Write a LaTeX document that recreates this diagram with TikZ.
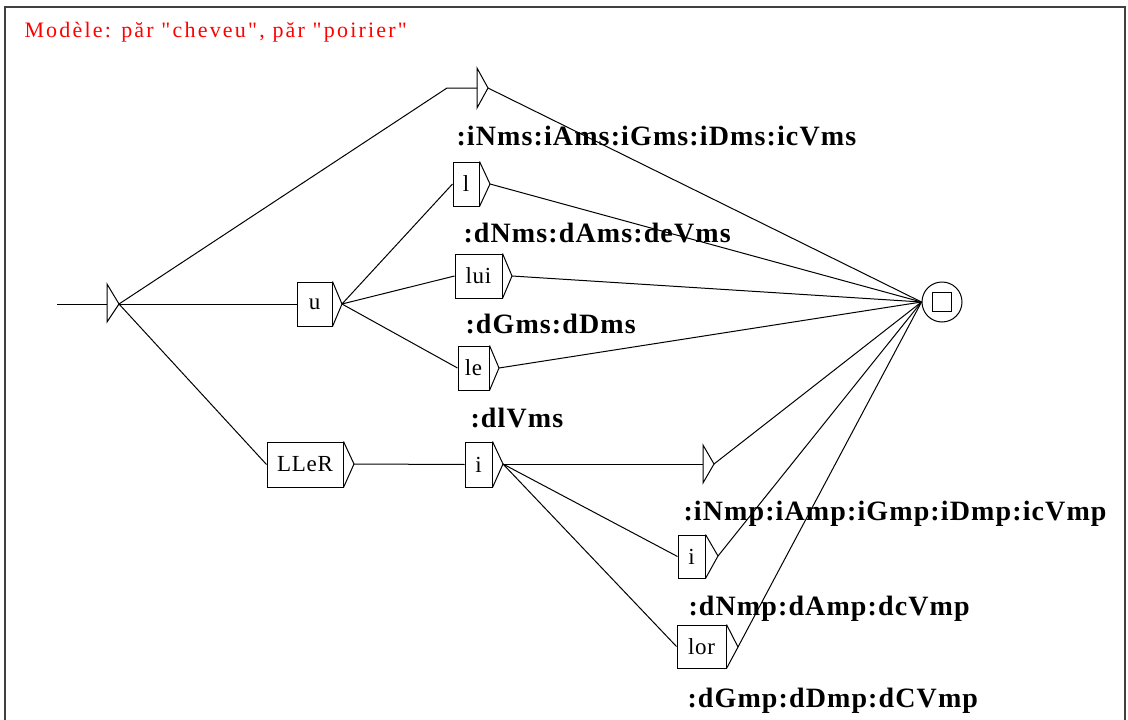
\documentclass[tikz,border=0pt]{standalone}
\usepackage{fontspec}
\setmainfont{Liberation Serif}
\newfontfamily\ttlfont[LetterSpace=10]{Liberation Serif}
\newfontfamily\boxfont[LetterSpace=3]{Liberation Serif}
\newfontfamily\lblfont[LetterSpace=4]{Liberation Serif}

\tikzset{
  box/.style={draw, rectangle, minimum height=44pt, inner sep=0pt, font=\boxfont\fontsize{23}{25}\selectfont},
  lbl/.style={anchor=base west, inner sep=0pt, font=\lblfont\bfseries\fontsize{28}{30}\selectfont},
}

\begin{document}
\begin{tikzpicture}[x=1pt, y=-1pt, line width=1pt]
\useasboundingbox (0,0) rectangle (1128,720);
\draw [gray!50!black, line width=2.5pt] (5,725) -- (5,7) -- (1125,7) -- (1125,725);
\node [anchor=base west, inner sep=0pt, red, font=\ttlfont\fontsize{22}{24}\selectfont] (title) at (24,37) {Modèle: păr "cheveu", păr "poirier"};

\coordinate (st) at (57,304);
\coordinate (q0m) at (107,304);
\coordinate (q0a) at (107,284);
\coordinate (q0b) at (107,322);
\coordinate (q0) at (119,304);
\draw (st) -- (q0m);
\draw (q0a) -- (q0b) -- (q0) -- cycle;

\coordinate (e1) at (447,88);
\coordinate (e1m) at (477,88);
\coordinate (e1a) at (477,68);
\coordinate (e1b) at (477,108);
\coordinate (e1t) at (488,88);
\draw (q0) -- (e1) -- (e1m);
\draw (e1a) -- (e1b) -- (e1t) -- cycle;
\node [lbl] (o1) at (456,145) {:iNms:iAms:iGms:iDms:icVms};

\node [box, minimum width=35pt] (u) at (314.5,304) {u};
\coordinate (u-t) at (342,304);
\draw (u.north east) -- (u-t) -- (u.south east);
\draw (q0) -- (u.west);

\node [box, minimum width=26pt] (l) at (466,184) {l};
\coordinate (l-t) at (490,184);
\draw (l.north east) -- (l-t) -- (l.south east);
\node [lbl] (o2) at (463,242) {:dNms:dAms:deVms};

\node [box, minimum width=47pt] (lui) at (478.5,276) {lui};
\coordinate (lui-t) at (512,276);
\draw (lui.north east) -- (lui-t) -- (lui.south east);
\node [lbl] (o3) at (465,333) {:dGms:dDms};

\node [box, minimum width=31pt] (le) at (473.5,368) {le};
\coordinate (le-t) at (499,368);
\draw (le.north east) -- (le-t) -- (le.south east);
\node [lbl] (o4) at (470,427) {:dlVms};

\draw (u-t) -- (l.west);
\draw (u-t) -- (lui.west);
\draw (u-t) -- (le.west);

\node [box, minimum width=76pt, minimum height=45pt] (ller) at (305,464.5) {LLeR};
\coordinate (ller-t) at (354,464);
\draw (ller.north east) -- (ller-t) -- (ller.south east);
\draw (q0) -- (ller.west);

\node [box, minimum width=27pt, minimum height=45pt] (i1) at (478.5,464.5) {i};
\coordinate (i1-t) at (503,464);
\draw (i1.north east) -- (i1-t) -- (i1.south east);
\draw (ller-t) -- (i1.west);

\coordinate (e2m) at (703,464);
\coordinate (e2a) at (703,445);
\coordinate (e2b) at (703,483);
\coordinate (e2t) at (714,464);
\draw (i1-t) -- (e2m);
\draw (e2a) -- (e2b) -- (e2t) -- cycle;
\node [lbl] (o5) at (683,520) {:iNmp:iAmp:iGmp:iDmp:icVmp};

\node [box, minimum width=27pt, minimum height=43pt] (i2) at (691.5,556.5) {i};
\coordinate (i2-t) at (718,556);
\draw (i2.north east) -- (i2-t) -- (i2.south east);
\draw (i1-t) -- (i2.west);
\node [lbl] (o6) at (688,615) {:dNmp:dAmp:dcVmp};

\node [box, minimum width=49pt, minimum height=43pt] (lor) at (701.5,646.5) {lor};
\coordinate (lor-t) at (738,647);
\draw (lor.north east) -- (lor-t) -- (lor.south east);
\draw (i1-t) -- (lor.west);
\node [lbl] (o7) at (687,707) {:dGmp:dDmp:dCVmp};

\node [draw, circle, minimum size=40pt, inner sep=0pt] (fin) at (942,302) {};
\node [draw, rectangle, minimum size=19pt, inner sep=0pt, line width=1.5pt] (fsq) at (fin) {};

\draw (e1t) -- (fin.west);
\draw (l-t) -- (fin.west);
\draw (lui-t) -- (fin.west);
\draw (le-t) -- (fin.west);
\draw (e2t) -- (fin.west);
\draw (i2-t) -- (fin.west);
\draw (lor-t) -- (fin.west);
\end{tikzpicture}
\end{document}
